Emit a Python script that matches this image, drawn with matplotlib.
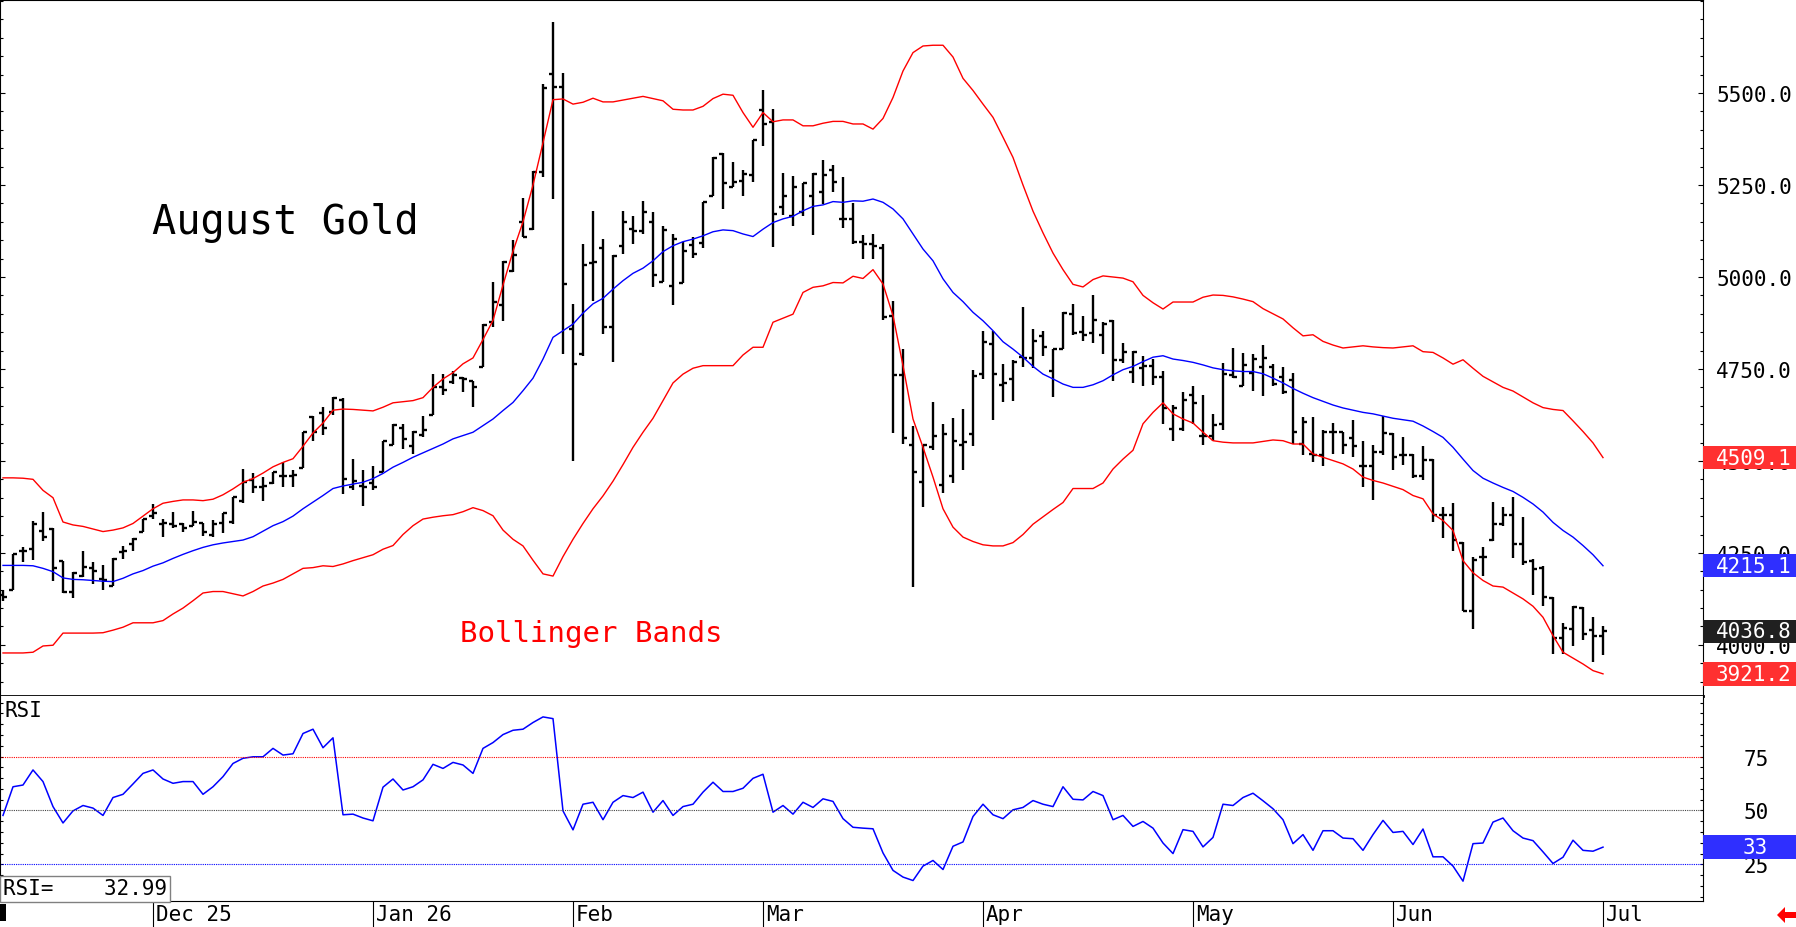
import numpy as np
import matplotlib
matplotlib.use("Agg")
import matplotlib.pyplot as plt
from matplotlib.patches import Rectangle, Polygon
from matplotlib.ticker import MultipleLocator, FixedLocator, FuncFormatter

# daily bars, Nov 2025 .. Jul 1 2026 (one entry per trading day)
opens = [4135, 4148, 4256, 4261, 4309, 4315, 4229, 4145, 4188, 4209,
         4179, 4161, 4252, 4274, 4308, 4351, 4329, 4329, 4329, 4324,
         4331, 4299, 4332, 4333, 4392, 4447, 4428, 4439, 4458, 4460,
         4480, 4619, 4630, 4632, 4667, 4430, 4433, 4440, 4470, 4542,
         4590, 4540, 4570, 4625, 4700, 4715, 4725, 4716, 4755, 4877,
         4925, 5015, 5150, 5130, 5285, 5552, 5517, 4859, 4790, 5038,
         5078, 4865, 5083, 5130, 5126, 5150, 4987, 4975, 4984, 5088,
         5092, 5219, 5334, 5246, 5260, 5278, 5455, 5422, 5189, 5165,
         5177, 5221, 5230, 5292, 5158, 5158, 5095, 5090, 5078, 4893,
         4734, 4542, 4442, 4537, 4435, 4458, 4544, 4573, 4736, 4818,
         4707, 4723, 4782, 4779, 4839, 4744, 4804, 4900, 4851, 4848,
         4841, 4881, 4775, 4741, 4752, 4759, 4729, 4587, 4587, 4678,
         4569, 4567, 4601, 4734, 4705, 4739, 4755, 4755, 4727, 4720,
         4546, 4519, 4517, 4578, 4578, 4562, 4487, 4487, 4525, 4573,
         4516, 4517, 4458, 4503, 4352, 4353, 4277, 4093, 4238, 4286,
         4329, 4353, 4274, 4229, 4208, 4127, 4018, 4043, 4100, 4040,
         4025]
highs = [4148, 4247, 4265, 4338, 4360, 4317, 4229, 4197, 4254, 4225,
         4216, 4236, 4270, 4290, 4341, 4383, 4342, 4362, 4331, 4363,
         4331, 4340, 4359, 4403, 4478, 4467, 4456, 4469, 4498, 4474,
         4578, 4621, 4646, 4673, 4670, 4505, 4475, 4485, 4555, 4601,
         4601, 4582, 4623, 4736, 4736, 4745, 4727, 4718, 4872, 4986,
         5044, 5101, 5214, 5287, 5524, 5692, 5554, 4927, 5090, 5180,
         5103, 5060, 5180, 5167, 5207, 5178, 5138, 5117, 5094, 5108,
         5203, 5325, 5337, 5312, 5292, 5372, 5508, 5458, 5284, 5274,
         5255, 5282, 5318, 5304, 5271, 5201, 5115, 5117, 5090, 4936,
         4803, 4596, 4543, 4661, 4600, 4616, 4641, 4748, 4854, 4854,
         4764, 4775, 4918, 4859, 4852, 4804, 4904, 4927, 4893, 4951,
         4879, 4884, 4821, 4800, 4786, 4777, 4745, 4653, 4687, 4703,
         4678, 4628, 4766, 4806, 4794, 4791, 4815, 4764, 4755, 4740,
         4619, 4619, 4585, 4602, 4578, 4610, 4555, 4542, 4623, 4575,
         4566, 4519, 4540, 4504, 4374, 4386, 4279, 4238, 4265, 4388,
         4374, 4401, 4347, 4234, 4214, 4130, 4060, 4107, 4102, 4075,
         4051]
lows = [4120, 4148, 4225, 4232, 4281, 4173, 4141, 4127, 4184, 4166,
        4150, 4159, 4234, 4256, 4308, 4341, 4293, 4317, 4308, 4322,
        4297, 4293, 4304, 4329, 4386, 4412, 4390, 4437, 4428, 4428,
        4480, 4555, 4571, 4625, 4409, 4421, 4378, 4421, 4469, 4542,
        4533, 4519, 4564, 4625, 4678, 4709, 4687, 4646, 4755, 4863,
        4881, 5013, 5108, 5129, 5271, 5212, 4791, 4501, 4786, 4936,
        4845, 4768, 5063, 5090, 5117, 4972, 4987, 4925, 4984, 5053,
        5078, 5219, 5185, 5244, 5219, 5257, 5355, 5081, 5168, 5138,
        5167, 5114, 5198, 5230, 5132, 5090, 5049, 5049, 4884, 4576,
        4546, 4157, 4374, 4531, 4413, 4440, 4474, 4540, 4723, 4612,
        4659, 4664, 4755, 4752, 4784, 4673, 4804, 4841, 4825, 4821,
        4791, 4718, 4766, 4712, 4703, 4707, 4601, 4553, 4582, 4601,
        4543, 4553, 4585, 4725, 4703, 4689, 4676, 4705, 4682, 4546,
        4515, 4498, 4486, 4519, 4519, 4510, 4428, 4394, 4516, 4474,
        4489, 4453, 4449, 4335, 4290, 4256, 4091, 4042, 4188, 4283,
        4324, 4236, 4217, 4136, 4105, 3974, 3974, 3996, 4012, 3953,
        3972]
closes = [4130, 4247, 4256, 4329, 4293, 4209, 4143, 4196, 4213, 4200,
          4175, 4234, 4256, 4288, 4341, 4359, 4332, 4322, 4317, 4333,
          4306, 4329, 4359, 4403, 4442, 4428, 4431, 4469, 4458, 4462,
          4578, 4578, 4589, 4670, 4450, 4446, 4430, 4430, 4553, 4598,
          4560, 4580, 4585, 4702, 4694, 4733, 4722, 4700, 4870, 4933,
          5042, 5060, 5110, 5285, 5515, 5517, 4981, 4764, 5033, 5040,
          4863, 5058, 5150, 5126, 5178, 5005, 5129, 5103, 5070, 5062,
          5203, 5323, 5255, 5257, 5280, 5372, 5416, 5171, 5219, 5246,
          5255, 5280, 5278, 5259, 5158, 5094, 5090, 5085, 4890, 4734,
          4562, 4471, 4543, 4569, 4573, 4555, 4551, 4732, 4822, 4735,
          4712, 4770, 4779, 4827, 4809, 4803, 4902, 4848, 4842, 4884,
          4872, 4774, 4797, 4797, 4759, 4729, 4643, 4643, 4667, 4658,
          4569, 4599, 4735, 4727, 4761, 4777, 4780, 4709, 4687, 4578,
          4605, 4516, 4578, 4578, 4543, 4540, 4487, 4525, 4575, 4510,
          4516, 4458, 4503, 4353, 4352, 4284, 4093, 4232, 4238, 4329,
          4352, 4274, 4225, 4207, 4130, 4018, 4045, 4102, 4030, 4024,
          4036.8]

upper_band = [4454, 4454, 4453, 4450, 4420, 4400, 4334, 4326, 4322, 4315,
              4308, 4312, 4318, 4330, 4350, 4370, 4385, 4390, 4394, 4394,
              4392, 4396, 4408, 4424, 4442, 4452, 4467, 4484, 4496, 4506,
              4540, 4576, 4603, 4638, 4641, 4640, 4638, 4636, 4646, 4658,
              4661, 4664, 4672, 4700, 4723, 4740, 4764, 4780, 4830, 4882,
              4978, 5070, 5150, 5250, 5365, 5482, 5484, 5470, 5475, 5486,
              5476, 5476, 5481, 5486, 5491, 5485, 5479, 5456, 5454, 5454,
              5464, 5485, 5497, 5494, 5447, 5407, 5447, 5422, 5427, 5427,
              5411, 5411, 5418, 5423, 5423, 5416, 5416, 5402, 5431, 5488,
              5560, 5610, 5628, 5630, 5630, 5598, 5540, 5507, 5470, 5434,
              5380, 5325, 5250, 5179, 5120, 5065, 5020, 4980, 4973, 4993,
              5003, 5000, 4997, 4987, 4950, 4930, 4913, 4932, 4932, 4932,
              4945, 4951, 4950, 4946, 4940, 4933, 4914, 4900, 4886, 4862,
              4840, 4843, 4825, 4815, 4807, 4810, 4813, 4810, 4808, 4807,
              4810, 4813, 4797, 4795, 4780, 4763, 4775, 4752, 4730, 4715,
              4700, 4690, 4674, 4658, 4645, 4640, 4637, 4609, 4580, 4549,
              4509.1]
middle_band = [4216, 4216, 4216, 4215, 4208, 4199, 4182, 4178, 4177, 4175,
               4173, 4172, 4181, 4193, 4202, 4214, 4223, 4235, 4246, 4256,
               4265, 4272, 4277, 4281, 4285, 4294, 4309, 4324, 4335, 4350,
               4370, 4388, 4406, 4425, 4432, 4437, 4442, 4452, 4466, 4483,
               4496, 4510, 4522, 4534, 4546, 4560, 4569, 4578, 4596, 4614,
               4637, 4659, 4691, 4725, 4777, 4836, 4854, 4872, 4902, 4927,
               4942, 4967, 4990, 5010, 5024, 5044, 5069, 5085, 5096, 5103,
               5112, 5123, 5128, 5126, 5117, 5110, 5130, 5148, 5158, 5165,
               5180, 5192, 5196, 5205, 5203, 5207, 5206, 5212, 5203, 5185,
               5158, 5117, 5076, 5044, 4995, 4958, 4933, 4904, 4881, 4854,
               4824, 4804, 4782, 4757, 4736, 4723, 4709, 4700, 4700, 4707,
               4718, 4734, 4748, 4757, 4770, 4782, 4786, 4777, 4773, 4768,
               4761, 4753, 4748, 4745, 4743, 4743, 4737, 4725, 4712, 4697,
               4684, 4672, 4662, 4652, 4644, 4638, 4632, 4628, 4622, 4616,
               4612, 4608, 4595, 4580, 4564, 4537, 4505, 4474, 4453, 4440,
               4428, 4417, 4401, 4383, 4361, 4333, 4311, 4293, 4270, 4245,
               4215.1]
lower_band = [3978, 3978, 3978, 3980, 3997, 3999, 4032, 4032, 4032, 4032,
              4033, 4040, 4048, 4060, 4060, 4060, 4066, 4084, 4100, 4120,
              4141, 4145, 4145, 4139, 4133, 4145, 4160, 4168, 4178, 4193,
              4208, 4210, 4215, 4213, 4220, 4229, 4237, 4245, 4260, 4270,
              4300, 4324, 4342, 4347, 4351, 4354, 4362, 4373, 4365, 4351,
              4312, 4287, 4269, 4230, 4193, 4187, 4240, 4287, 4330, 4370,
              4405, 4445, 4490, 4537, 4578, 4616, 4664, 4712, 4736, 4752,
              4759, 4759, 4759, 4759, 4788, 4809, 4809, 4877, 4888, 4899,
              4958, 4972, 4976, 4985, 4984, 5002, 4996, 5020, 4981, 4895,
              4759, 4614, 4537, 4456, 4370, 4320, 4293, 4281, 4272, 4269,
              4269, 4278, 4300, 4328, 4348, 4368, 4387, 4425, 4425, 4425,
              4440, 4478, 4505, 4529, 4601, 4632, 4658, 4628, 4614, 4603,
              4578, 4555, 4551, 4549, 4549, 4549, 4553, 4557, 4555, 4546,
              4546, 4519, 4510, 4501, 4492, 4478, 4456, 4447, 4440, 4431,
              4422, 4406, 4397, 4356, 4338, 4311, 4229, 4196, 4175, 4160,
              4157, 4141, 4125, 4105, 4075, 4025, 3980, 3964, 3948, 3930,
              3921.2]

rsi = [47.7, 61.0, 61.8, 68.8, 63.4, 51.8, 44.2, 49.8, 52.3, 51.1,
       47.7, 56.0, 57.5, 62.3, 67.2, 68.8, 64.6, 62.6, 63.4, 63.4,
       57.5, 61.0, 65.7, 71.8, 74.2, 74.9, 74.9, 78.8, 75.7, 76.3,
       85.7, 87.7, 79.1, 83.7, 48.0, 48.3, 46.5, 45.2, 60.8, 64.6,
       59.5, 61.0, 64.2, 71.4, 69.5, 72.3, 71.1, 67.2, 78.8, 81.5,
       85.2, 87.2, 87.7, 90.8, 93.4, 92.6, 49.8, 41.0, 52.9, 53.8,
       45.7, 53.8, 56.9, 56.0, 58.5, 49.2, 54.6, 47.7, 51.8, 52.9,
       58.5, 63.1, 58.8, 58.8, 60.3, 64.9, 66.8, 49.2, 52.3, 48.3,
       53.8, 51.4, 55.4, 54.2, 46.2, 42.2, 41.8, 41.5, 30.3, 22.2,
       19.1, 17.5, 24.2, 26.8, 22.6, 33.4, 35.4, 47.2, 52.9, 48.0,
       46.2, 50.3, 51.4, 54.6, 52.9, 51.8, 61.0, 55.2, 54.9, 58.8,
       56.9, 45.7, 47.7, 42.6, 44.9, 41.8, 34.9, 30.0, 41.1, 40.3,
       33.1, 37.5, 52.9, 52.3, 56.0, 58.0, 54.5, 50.8, 45.7, 34.6,
       38.8, 31.5, 40.6, 40.6, 37.2, 36.9, 31.5, 38.8, 45.4, 39.8,
       40.3, 34.2, 41.4, 28.5, 28.5, 24.2, 17.2, 34.6, 34.9, 44.6,
       46.5, 40.6, 37.2, 36.0, 30.8, 25.4, 28.3, 36.2, 31.5, 31.1,
       32.99]

price_levels = [4000, 4250, 4500, 4750, 5000, 5250, 5500]
rsi_levels = [25, 50, 75]
month_labels = ["Dec 25", "Jan 26", "Feb", "Mar", "Apr", "May", "Jun", "Jul"]
month_first_bar = [15, 37, 57, 76, 98, 119, 139, 160]

W, H = 1796, 928
MONO = "DejaVu Sans Mono"
RED = "#ff0000"
BLUE = "#0000ff"


def fx(px):
    return px / W


def fy(py):
    return 1 - py / H


fig = plt.figure(figsize=(W / 100, H / 100), dpi=100)
fig.patch.set_facecolor("white")

ax = fig.add_axes([0, fy(697), fx(1703), (697 - 1) / H])
ax_rsi = fig.add_axes([0, fy(902), fx(1703), (902 - 697) / H])

x = np.arange(len(closes))

# --- price panel: OHLC bars + bollinger bands
ax.vlines(x, lows, highs, color="black", lw=1.7)
ax.hlines(opens, x - 0.38, x, color="black", lw=1.7)
ax.hlines(closes, x, x + 0.38, color="black", lw=1.7)
ax.plot(x, upper_band, color=RED, lw=1.0)
ax.plot(x, lower_band, color=RED, lw=1.0)
ax.plot(x, middle_band, color=BLUE, lw=1.0)

ax.set_xlim(-0.3, 170)
ax.set_ylim(3861, 5753)
ax.set_xticks([])
ax.yaxis.set_major_locator(FixedLocator(price_levels))
ax.yaxis.set_minor_locator(MultipleLocator(50))
ax.yaxis.set_major_formatter(FuncFormatter(lambda v, p: f"{v:.1f}"))
ax.tick_params(axis="y", which="both", direction="in", left=True, right=True,
               labelleft=False, labelright=True)
ax.tick_params(axis="y", which="major", length=3.6, width=0.8, pad=9.4,
               labelsize=15, labelfontfamily=MONO)
ax.tick_params(axis="y", which="minor", length=2.2, width=0.8)
for s in ax.spines.values():
    s.set_linewidth(0.8)
ax.spines["bottom"].set_linewidth(2.0)

fig.text(fx(152), fy(234), "August Gold", fontsize=29, family=MONO,
         ha="left", va="baseline")
fig.text(fx(460), fy(642), "Bollinger Bands", fontsize=21, family=MONO,
         color=RED, ha="left", va="baseline")


def value_box(axis, value, text, color, text_dx, half_px=11.75):
    ylo, yhi = axis.get_ylim()
    h_px = axis.get_position().height * H
    half = half_px * (yhi - ylo) / h_px
    tr = axis.get_yaxis_transform()
    axis.add_patch(Rectangle((1.0, value - half), 94 / 1703, 2 * half,
                             transform=tr, facecolor=color, edgecolor="none",
                             clip_on=False, zorder=10))
    axis.text(1.0 + text_dx / 1703, value, text, transform=tr, color="white",
              fontsize=15, family=MONO, ha="left", va="center",
              clip_on=False, zorder=11)


value_box(ax, upper_band[-1], f"{upper_band[-1]:.1f}", "#ff3030", 13)
value_box(ax, middle_band[-1], f"{middle_band[-1]:.1f}", "#2f2fff", 13)
value_box(ax, closes[-1], f"{closes[-1]:.1f}", "#202020", 13)
value_box(ax, lower_band[-1], f"{lower_band[-1]:.1f}", "#ff3030", 13)

# --- RSI panel
ax_rsi.plot(x, rsi, color=BLUE, lw=1.1)
ax_rsi.axhline(75, color=RED, lw=0.8, ls=(0, (1, 1)))
ax_rsi.axhline(50, color="#444444", lw=0.8, ls=(0, (1, 1)))
ax_rsi.axhline(25, color=BLUE, lw=0.8, ls=(0, (1, 1)))
ax_rsi.set_xlim(-0.3, 170)
ax_rsi.set_ylim(8.0, 103.1)
ax_rsi.set_xticks([])
ax_rsi.yaxis.set_major_locator(FixedLocator(rsi_levels))
ax_rsi.yaxis.set_minor_locator(MultipleLocator(5))
ax_rsi.yaxis.set_major_formatter(FuncFormatter(lambda v, p: f"{v:.0f}"))
ax_rsi.tick_params(axis="y", which="both", direction="in", left=True, right=True,
                   labelleft=False, labelright=True)
ax_rsi.tick_params(axis="y", which="major", length=2.2, width=0.8, pad=29,
                   labelsize=15, labelfontfamily=MONO)
ax_rsi.tick_params(axis="y", which="minor", length=2.2, width=0.8)
for s in ax_rsi.spines.values():
    s.set_linewidth(0.8)
ax_rsi.spines["top"].set_visible(False)

value_box(ax_rsi, rsi[-1], f"{rsi[-1]:.0f}", "#2f2fff", 40)

fig.text(fx(4), fy(711), "RSI", fontsize=15, family=MONO, ha="left", va="center")
fig.patches.append(Rectangle((0, fy(903)), fx(170), 26 / H, transform=fig.transFigure,
                             facecolor="white", edgecolor="#808080", lw=1.0))
fig.text(fx(3), fy(889), f"RSI=    {rsi[-1]:.2f}", fontsize=15, family=MONO,
         ha="left", va="center")

# --- date axis below the RSI panel
xt = ax_rsi.get_xaxis_transform()
ax_rsi.vlines(month_first_bar, -26 / 205, 0, transform=xt, color="black",
              lw=0.8, clip_on=False)
for m, lab in zip(month_first_bar, month_labels):
    ax_rsi.text(m + 0.3, -13 / 205, lab, transform=xt, fontsize=15, family=MONO,
                ha="left", va="center", clip_on=False)

fig.patches.append(Rectangle((0, fy(922)), fx(6), 17 / H, transform=fig.transFigure,
                             facecolor="black", edgecolor="none"))
arrow_px = [(1777, 916), (1785, 908), (1785, 913), (1796, 913),
            (1796, 919), (1785, 919), (1785, 924)]
fig.patches.append(Polygon([(fx(a), fy(b)) for a, b in arrow_px], closed=True,
                           transform=fig.transFigure, facecolor="#ff0000",
                           edgecolor="none"))

fig.savefig("out.png", dpi=100)
